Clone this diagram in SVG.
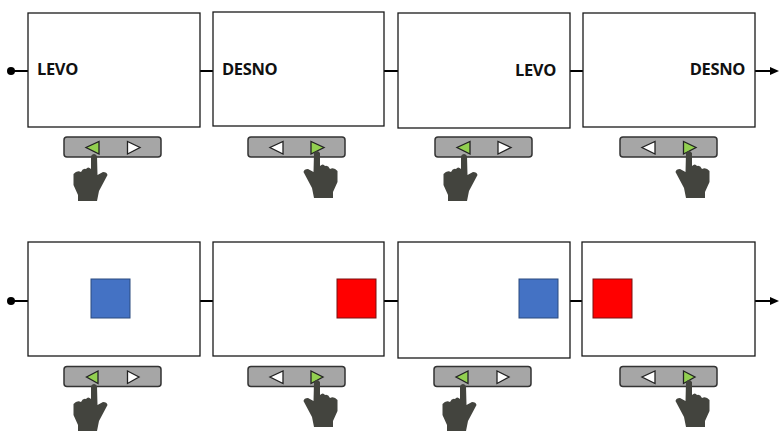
<svg xmlns="http://www.w3.org/2000/svg" width="780" height="431" viewBox="0 0 780 431">
<style>
.b{fill:#fff;stroke:#1a1a1a;stroke-width:1.3}
.t{font:bold 16.500px "Open Sans","Liberation Sans",sans-serif;fill:#111;letter-spacing:-.35px}
.c{fill:none;stroke:#000;stroke-width:2}
.p{fill:#a6a6a6;stroke:#333;stroke-width:1.5}
.tr{stroke:#222;stroke-width:1.3}
.g{fill:#92d050}.w{fill:#fff}
.h{fill:#43443e}
.s{stroke:#2a4a7f;stroke-width:1}
</style>
<defs>
<marker id="a" markerUnits="userSpaceOnUse" markerWidth="10" markerHeight="10" refX="1" refY="5" orient="auto"><path d="M0,1 L9,5 L0,9z" fill="#000"/></marker>
<path id="hand" d="M-3,1 Q0,-3 3,1 L3.500,20 L9,17 Q13,17 13.500,20 L5,36 L3,46 L-16,46 L-16,40 L-20.500,30 L-20.500,19 Q-17,15 -13,17 Q-11,13 -8,14 Q-6,11 -3,14z"/>
<g id="pad">
<rect class="p" x="0" y="0" width="97" height="20" rx="3"/>
</g>
</defs>
<g id="connectors">
<circle cx="11" cy="71" r="4" fill="#000"/>
<path class="c" d="M11,71H28M200,71H213M384,71H398M570,71H583"/>
<path class="c" d="M755,71H771" marker-end="url(#a)"/>
<circle cx="11" cy="301" r="4" fill="#000"/>
<path class="c" d="M11,301H28M200,301H213M384,301H398M570,301H582"/>
<path class="c" d="M755,301H771" marker-end="url(#a)"/>
</g>
<g id="screen1"><rect class="b" x="28" y="13" width="172" height="114"/><text class="t" x="37" y="75">LEVO</text></g>
<g id="screen2"><rect class="b" x="213" y="12" width="171" height="114"/><text class="t" x="222" y="75">DESNO</text></g>
<g id="screen3"><rect class="b" x="398" y="13" width="172" height="115"/><text class="t" x="556" y="76" text-anchor="end">LEVO</text></g>
<g id="screen4"><rect class="b" x="583" y="13" width="172" height="114"/><text class="t" x="745" y="75" text-anchor="end">DESNO</text></g>
<g id="screen5"><rect class="b" x="28" y="242" width="172" height="114"/><rect class="s" x="91" y="279" width="39" height="39" fill="#4472c4"/></g>
<g id="screen6"><rect class="b" x="213" y="242" width="171" height="114"/><rect class="s" x="337" y="279" width="39" height="39" fill="#ff0000" style="stroke:#7a1010"/></g>
<g id="screen7"><rect class="b" x="398" y="242" width="172" height="116"/><rect class="s" x="519" y="279" width="39" height="39" fill="#4472c4"/></g>
<g id="screen8"><rect class="b" x="582" y="242" width="173" height="114"/><rect class="s" x="593" y="279" width="39" height="39" fill="#ff0000" style="stroke:#7a1010"/></g>
<g id="control1"><use href="#pad" x="64" y="137"/><path class="tr g" d="M99,141.500V154L86,147.500z"/><path class="tr w" d="M127.500,141.500V154L140,147.500z"/><use href="#hand" class="h" transform="translate(94,155)"/></g>
<g id="control2"><use href="#pad" x="248" y="137"/><path class="tr w" d="M283,141.500V154L270,147.500z"/><path class="tr g" d="M311,141.500V154L324,147.500z"/><use href="#hand" class="h" transform="translate(317,152) scale(-1,1)"/></g>
<g id="control3"><use href="#pad" x="435" y="137"/><path class="tr g" d="M470,141.500V154L457,147.500z"/><path class="tr w" d="M498,141.500V154L511,147.500z"/><use href="#hand" class="h" transform="translate(464,155)"/></g>
<g id="control4"><use href="#pad" x="620" y="137"/><path class="tr w" d="M655,141.500V154L642,147.500z"/><path class="tr g" d="M683.500,141.500V154L696,147.500z"/><use href="#hand" class="h" transform="translate(689,152) scale(-1,1)"/></g>
<g id="control5"><use href="#pad" x="64" y="366.500"/><path class="tr g" d="M98,371V383.500L86.500,377z"/><path class="tr w" d="M127.500,371V383.500L139,377z"/><use href="#hand" class="h" transform="translate(94,385)"/></g>
<g id="control6"><use href="#pad" x="248" y="366.500"/><path class="tr w" d="M283,371V383.500L270,377z"/><path class="tr g" d="M311,371V383.500L323,377z"/><use href="#hand" class="h" transform="translate(317,381) scale(-1,1)"/></g>
<g id="control7"><use href="#pad" x="434" y="366.500"/><path class="tr g" d="M468,371V383.500L456,377z"/><path class="tr w" d="M497,371V383.500L509,377z"/><use href="#hand" class="h" transform="translate(463,385)"/></g>
<g id="control8"><use href="#pad" x="620" y="366.500"/><path class="tr w" d="M655,371V383.500L642,377z"/><path class="tr g" d="M683.500,371V383.500L695,377z"/><use href="#hand" class="h" transform="translate(689,381) scale(-1,1)"/></g>
</svg>
